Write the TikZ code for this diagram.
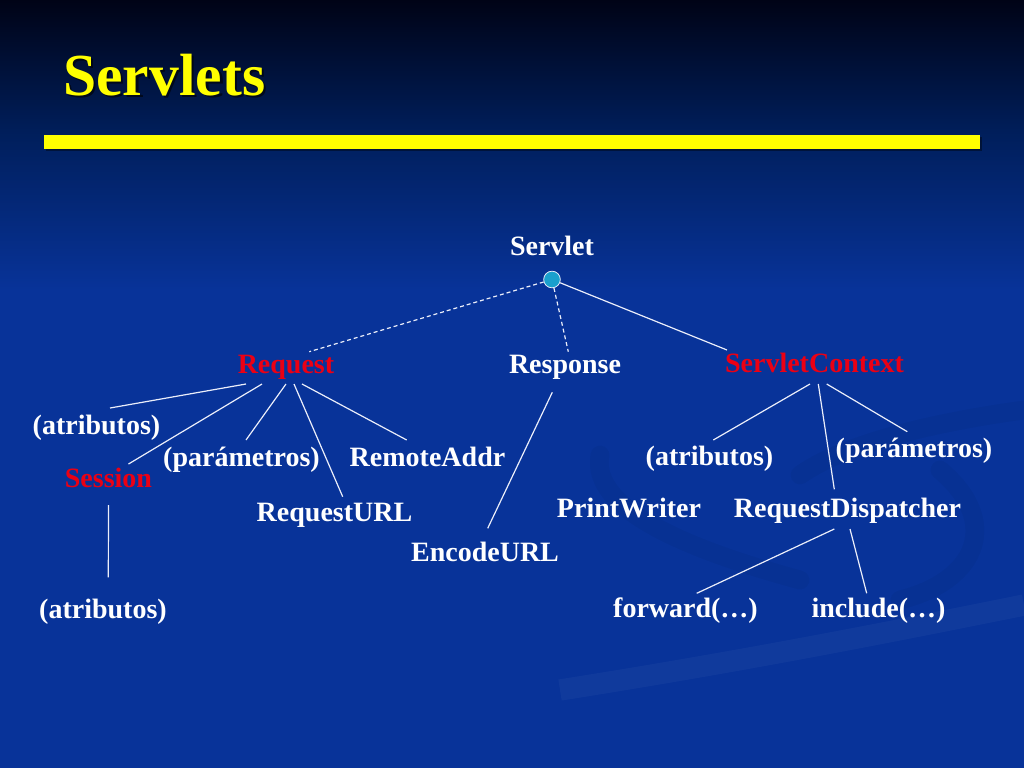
\documentclass[tikz,border=0pt]{standalone}
\usepackage{fontspec}
\setmainfont{Liberation Serif}
\usetikzlibrary{calc}
\definecolor{bgblue}{RGB}{8,51,153}
\definecolor{bgmid}{RGB}{0,30,90}
\definecolor{bgtop}{RGB}{0,3,22}
\definecolor{nodecyan}{RGB}{26,160,205}
\definecolor{redtxt}{RGB}{235,0,20}
\definecolor{titleyellow}{RGB}{255,255,0}
\definecolor{linewhite}{RGB}{235,238,250}
\begin{document}
\begin{tikzpicture}[x=0.75pt,y=-0.75pt,
  lbl/.style={font=\bfseries\fontsize{21}{24}\selectfont, text=white, inner sep=0pt, anchor=base},
  hl/.style={text=redtxt},
  conn/.style={draw=linewhite, line width=0.9pt},
  dashconn/.style={conn, dash pattern=on 3pt off 2.2pt},
  swoosh/.style={line width=14pt, opacity=0.04, line cap=round}]
\useasboundingbox (0,0) rectangle (1024,768);
% background
\fill[bgblue] (0,0) rectangle (1024,768);
\shade[top color=bgtop, bottom color=bgmid] (0,0) rectangle (1024,131);
\shade[top color=bgmid, bottom color=bgblue] (0,130) rectangle (1024,290);
% faint swooshes
\draw[swoosh, black] (600,455) .. controls (590,510) and (690,550) .. (800,580);
\draw[swoosh, black] (800,475) .. controls (850,440) and (950,420) .. (1024,410);
\draw[swoosh, black] (940,470) .. controls (1000,520) and (980,580) .. (900,600);
\draw[line width=16pt, opacity=0.035, white] (560,690) .. controls (750,660) and (900,630) .. (1024,605);
% title
\node[anchor=base west, inner sep=0pt, font=\bfseries\fontsize{44.7}{50}\selectfont, text=black, opacity=0.6] (titleshadow) at (65.5,97.5) {Servlets};
\node[anchor=base west, inner sep=0pt, font=\bfseries\fontsize{44.7}{50}\selectfont, text=titleyellow] (title) at (63,95) {Servlets};
\fill[black, opacity=0.4] (46,137) rectangle (982,151);
\fill[titleyellow] (44,135) rectangle (980,149);
% nodes
\node[lbl] (servletlbl) at (552,255) {Servlet};
\node[circle, fill=nodecyan, draw=linewhite, line width=0.6pt, minimum size=12.5pt, inner sep=0pt] (root) at (552,279.5) {};
\node[lbl, hl] (req) at (286,373) {Request};
\node[lbl] (resp) at (565,373.5) {Response};
\node[lbl, hl] (ctx) at (814.5,372) {ServletContext};
\node[lbl] (ra1) at (96.5,434) {(atributos)};
\node[lbl, hl] (sess) at (108.5,487) {Session};
\node[lbl] (rp) at (241.5,466) {(parámetros)};
\node[lbl] (radd) at (427.5,466) {RemoteAddr};
\node[lbl] (rurl) at (334.5,521) {RequestURL};
\node[lbl] (enc) at (485,561) {EncodeURL};
\node[lbl] (sa) at (103,618) {(atributos)};
\node[lbl] (ca) at (709.5,465) {(atributos)};
\node[lbl] (cp) at (914,457) {(parámetros)};
\node[lbl] (pw) at (629,517) {PrintWriter};
\node[lbl] (rd) at (847.5,517) {RequestDispatcher};
\node[lbl] (fw) at (685.5,617) {forward(…)};
\node[lbl] (inc) at (878.5,617) {include(…)};
% connectors
\draw[dashconn] (root) -- ($(req.base)+(23.3,-21.3)$);
\draw[dashconn] (root) -- ($(resp.base)+(3.3,-21.8)$);
\draw[conn] (root) -- ($(ctx.base)+(-87.5,-22)$);
\draw[conn] ($(req.base)+(-40,11)$) -- ($(ra1.base)+(13.5,-26)$);
\draw[conn] ($(req.base)+(-24,11)$) -- ($(sess.base)+(20,-23)$);
\draw[conn] ($(req.base)+(0,11)$) -- ($(rp.base)+(4.5,-26)$);
\draw[conn] ($(req.base)+(8,11)$) -- ($(rurl.base)+(8.2,-24.3)$);
\draw[conn] ($(req.base)+(16,11)$) -- ($(radd.base)+(-20.8,-26)$);
\draw[conn] ($(sess.base)+(0,18)$) -- ($(sa.base)+(5.3,-40.7)$);
\draw[conn] ($(resp.base)+(-12.7,18.8)$) -- ($(enc.base)+(2.7,-32.7)$);
\draw[conn] ($(ctx.base)+(-4.5,12)$) -- ($(ca.base)+(3.8,-25)$);
\draw[conn] ($(ctx.base)+(3.8,12)$) -- ($(rd.base)+(-13.2,-27.7)$);
\draw[conn] ($(ctx.base)+(12.2,12)$) -- ($(cp.base)+(-6.7,-25.3)$);
\draw[conn] ($(rd.base)+(-13.2,12)$) -- ($(fw.base)+(11.2,-23.7)$);
\draw[conn] ($(rd.base)+(2.5,12)$) -- ($(inc.base)+(-11.8,-23.7)$);
\end{tikzpicture}
\end{document}
